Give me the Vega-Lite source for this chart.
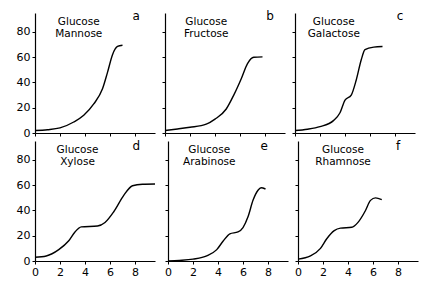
{
  "$schema": "https://vega.github.io/schema/vega-lite/v6.json",
  "padding": {"left": 16, "top": 9, "right": 5, "bottom": 5},
  "background": "white",
  "spacing": 2,
  "config": {
    "view": {"stroke": null},
    "axis": {"grid": false, "domainColor": "black", "tickColor": "black", "labelColor": "black", "labelFont": "DejaVu Sans", "labelFontSize": 11, "tickSize": 3, "title": null, "domainWidth": 1.2, "tickWidth": 1, "labelOverlap": false, "labelFlush": false, "tickCount": 10},
    "text": {"font": "DejaVu Sans", "fontSize": 10.5, "color": "black"},
    "concat": {"spacing": 6}
  },
  "datasets": {
    "curves": [
      {"panel": "a", "t": 0, "y": 2}, {"panel": "a", "t": 1, "y": 2.6}, {"panel": "a", "t": 2, "y": 4}, {"panel": "a", "t": 3.1, "y": 8.7}, {"panel": "a", "t": 3.9, "y": 14}, {"panel": "a", "t": 4.7, "y": 23}, {"panel": "a", "t": 5.4, "y": 35}, {"panel": "a", "t": 5.8, "y": 48}, {"panel": "a", "t": 6.2, "y": 62}, {"panel": "a", "t": 6.6, "y": 68.5}, {"panel": "a", "t": 7.0, "y": 69.5},
      {"panel": "b", "t": 0, "y": 2}, {"panel": "b", "t": 1, "y": 3.2}, {"panel": "b", "t": 2, "y": 4.5}, {"panel": "b", "t": 3.3, "y": 7}, {"panel": "b", "t": 4, "y": 11}, {"panel": "b", "t": 4.9, "y": 19}, {"panel": "b", "t": 5.5, "y": 30}, {"panel": "b", "t": 6.1, "y": 43}, {"panel": "b", "t": 6.6, "y": 55}, {"panel": "b", "t": 7.1, "y": 60}, {"panel": "b", "t": 7.8, "y": 60.3},
      {"panel": "c", "t": 0, "y": 2}, {"panel": "c", "t": 1, "y": 3}, {"panel": "c", "t": 2, "y": 5}, {"panel": "c", "t": 3.1, "y": 10}, {"panel": "c", "t": 3.6, "y": 16}, {"panel": "c", "t": 4.0, "y": 26}, {"panel": "c", "t": 4.5, "y": 30}, {"panel": "c", "t": 4.9, "y": 42}, {"panel": "c", "t": 5.3, "y": 58}, {"panel": "c", "t": 5.6, "y": 66}, {"panel": "c", "t": 6.3, "y": 68}, {"panel": "c", "t": 7.0, "y": 68.5},
      {"panel": "d", "t": 0, "y": 3}, {"panel": "d", "t": 0.9, "y": 4}, {"panel": "d", "t": 1.9, "y": 9}, {"panel": "d", "t": 2.7, "y": 16}, {"panel": "d", "t": 3.2, "y": 23}, {"panel": "d", "t": 3.7, "y": 27}, {"panel": "d", "t": 5.0, "y": 27.7}, {"panel": "d", "t": 5.6, "y": 30.5}, {"panel": "d", "t": 6.3, "y": 39}, {"panel": "d", "t": 7.1, "y": 52}, {"panel": "d", "t": 7.8, "y": 59.6}, {"panel": "d", "t": 8.6, "y": 60.8}, {"panel": "d", "t": 9.6, "y": 61},
      {"panel": "e", "t": 0, "y": 0}, {"panel": "e", "t": 0.9, "y": 0.5}, {"panel": "e", "t": 2, "y": 1.5}, {"panel": "e", "t": 3.1, "y": 4}, {"panel": "e", "t": 3.9, "y": 9}, {"panel": "e", "t": 4.4, "y": 15.6}, {"panel": "e", "t": 4.95, "y": 21.5}, {"panel": "e", "t": 5.6, "y": 23}, {"panel": "e", "t": 6.0, "y": 26.5}, {"panel": "e", "t": 6.4, "y": 35}, {"panel": "e", "t": 6.8, "y": 48}, {"panel": "e", "t": 7.2, "y": 56}, {"panel": "e", "t": 7.45, "y": 58}, {"panel": "e", "t": 7.8, "y": 57},
      {"panel": "f", "t": 0, "y": 1.5}, {"panel": "f", "t": 1, "y": 4}, {"panel": "f", "t": 1.8, "y": 10}, {"panel": "f", "t": 2.3, "y": 17.6}, {"panel": "f", "t": 2.9, "y": 24}, {"panel": "f", "t": 3.4, "y": 26}, {"panel": "f", "t": 4.3, "y": 26.7}, {"panel": "f", "t": 4.8, "y": 30.6}, {"panel": "f", "t": 5.4, "y": 40}, {"panel": "f", "t": 5.8, "y": 48}, {"panel": "f", "t": 6.2, "y": 50}, {"panel": "f", "t": 6.7, "y": 48.6}
    ]
  },
  "vconcat": [
    {
      "hconcat": [
        {
          "width": 120, "height": 120,
          "layer": [
            {"data": {"name": "curves"}, "transform": [{"filter": "datum.panel === 'a'"}],
             "mark": {"type": "line", "interpolate": "monotone", "color": "black", "strokeWidth": 1.4},
             "encoding": {
               "x": {"field": "t", "type": "quantitative", "scale": {"domain": [0, 9.6], "nice": false}, "axis": {"values": [0, 2, 4, 6, 8], "labels": false, "tickCount": 10}},
               "y": {"field": "y", "type": "quantitative", "scale": {"domain": [0, 95], "nice": false}, "axis": {"values": [0, 20, 40, 60, 80], "tickCount": 10}}
             }},
            {"data": {"values": [{}]}, "mark": {"type": "text", "align": "center", "baseline": "middle", "lineHeight": 12},
             "encoding": {"x": {"datum": 3.5}, "y": {"datum": 87.5}, "text": {"value": ["Glucose", "Mannose"]}}},
            {"data": {"values": [{}]}, "mark": {"type": "text", "align": "center", "baseline": "middle", "fontSize": 12},
             "encoding": {"x": {"datum": 8.1}, "y": {"datum": 93}, "text": {"value": "a"}}}
          ]
        },
        {
          "width": 120, "height": 120,
          "layer": [
            {"data": {"name": "curves"}, "transform": [{"filter": "datum.panel === 'b'"}],
             "mark": {"type": "line", "interpolate": "monotone", "color": "black", "strokeWidth": 1.4},
             "encoding": {
               "x": {"field": "t", "type": "quantitative", "scale": {"domain": [0, 9.6], "nice": false}, "axis": {"values": [0, 2, 4, 6, 8], "labels": false, "tickCount": 10}},
               "y": {"field": "y", "type": "quantitative", "scale": {"domain": [0, 95], "nice": false}, "axis": {"values": [0, 20, 40, 60, 80], "labels": false, "tickCount": 10}}
             }},
            {"data": {"values": [{}]}, "mark": {"type": "text", "align": "center", "baseline": "middle", "lineHeight": 12},
             "encoding": {"x": {"datum": 3.3}, "y": {"datum": 87.5}, "text": {"value": ["Glucose", "Fructose"]}}},
            {"data": {"values": [{}]}, "mark": {"type": "text", "align": "center", "baseline": "middle", "fontSize": 12},
             "encoding": {"x": {"datum": 8.4}, "y": {"datum": 93}, "text": {"value": "b"}}}
          ]
        },
        {
          "width": 120, "height": 120,
          "layer": [
            {"data": {"name": "curves"}, "transform": [{"filter": "datum.panel === 'c'"}],
             "mark": {"type": "line", "interpolate": "monotone", "color": "black", "strokeWidth": 1.4},
             "encoding": {
               "x": {"field": "t", "type": "quantitative", "scale": {"domain": [0, 9.6], "nice": false}, "axis": {"values": [0, 2, 4, 6, 8], "labels": false, "tickCount": 10}},
               "y": {"field": "y", "type": "quantitative", "scale": {"domain": [0, 95], "nice": false}, "axis": {"values": [0, 20, 40, 60, 80], "labels": false, "tickCount": 10}}
             }},
            {"data": {"values": [{}]}, "mark": {"type": "text", "align": "center", "baseline": "middle", "lineHeight": 12},
             "encoding": {"x": {"datum": 3.1}, "y": {"datum": 87.5}, "text": {"value": ["Glucose", "Galactose"]}}},
            {"data": {"values": [{}]}, "mark": {"type": "text", "align": "center", "baseline": "middle", "fontSize": 12},
             "encoding": {"x": {"datum": 8.4}, "y": {"datum": 93}, "text": {"value": "c"}}}
          ]
        }
      ]
    },
    {
      "hconcat": [
        {
          "width": 120, "height": 120,
          "layer": [
            {"data": {"name": "curves"}, "transform": [{"filter": "datum.panel === 'd'"}],
             "mark": {"type": "line", "interpolate": "monotone", "color": "black", "strokeWidth": 1.4},
             "encoding": {
               "x": {"field": "t", "type": "quantitative", "scale": {"domain": [0, 9.6], "nice": false}, "axis": {"values": [0, 2, 4, 6, 8], "tickCount": 10}},
               "y": {"field": "y", "type": "quantitative", "scale": {"domain": [0, 95], "nice": false}, "axis": {"values": [0, 20, 40, 60, 80], "tickCount": 10}}
             }},
            {"data": {"values": [{}]}, "mark": {"type": "text", "align": "center", "baseline": "middle", "lineHeight": 12},
             "encoding": {"x": {"datum": 3.4}, "y": {"datum": 88}, "text": {"value": ["Glucose", "Xylose"]}}},
            {"data": {"values": [{}]}, "mark": {"type": "text", "align": "center", "baseline": "middle", "fontSize": 12},
             "encoding": {"x": {"datum": 8.1}, "y": {"datum": 91}, "text": {"value": "d"}}}
          ]
        },
        {
          "width": 120, "height": 120,
          "layer": [
            {"data": {"name": "curves"}, "transform": [{"filter": "datum.panel === 'e'"}],
             "mark": {"type": "line", "interpolate": "monotone", "color": "black", "strokeWidth": 1.4},
             "encoding": {
               "x": {"field": "t", "type": "quantitative", "scale": {"domain": [0, 9.6], "nice": false}, "axis": {"values": [0, 2, 4, 6, 8], "tickCount": 10}},
               "y": {"field": "y", "type": "quantitative", "scale": {"domain": [0, 95], "nice": false}, "axis": {"values": [0, 20, 40, 60, 80], "labels": false, "tickCount": 10}}
             }},
            {"data": {"values": [{}]}, "mark": {"type": "text", "align": "center", "baseline": "middle", "lineHeight": 12},
             "encoding": {"x": {"datum": 3.3}, "y": {"datum": 88}, "text": {"value": ["Glucose", "Arabinose"]}}},
            {"data": {"values": [{}]}, "mark": {"type": "text", "align": "center", "baseline": "middle", "fontSize": 12},
             "encoding": {"x": {"datum": 7.7}, "y": {"datum": 91}, "text": {"value": "e"}}}
          ]
        },
        {
          "width": 120, "height": 120,
          "layer": [
            {"data": {"name": "curves"}, "transform": [{"filter": "datum.panel === 'f'"}],
             "mark": {"type": "line", "interpolate": "monotone", "color": "black", "strokeWidth": 1.4},
             "encoding": {
               "x": {"field": "t", "type": "quantitative", "scale": {"domain": [0, 9.6], "nice": false}, "axis": {"values": [0, 2, 4, 6, 8], "tickCount": 10}},
               "y": {"field": "y", "type": "quantitative", "scale": {"domain": [0, 95], "nice": false}, "axis": {"values": [0, 20, 40, 60, 80], "labels": false, "tickCount": 10}}
             }},
            {"data": {"values": [{}]}, "mark": {"type": "text", "align": "center", "baseline": "middle", "lineHeight": 12},
             "encoding": {"x": {"datum": 3.6}, "y": {"datum": 88}, "text": {"value": ["Glucose", "Rhamnose"]}}},
            {"data": {"values": [{}]}, "mark": {"type": "text", "align": "center", "baseline": "middle", "fontSize": 12},
             "encoding": {"x": {"datum": 8.0}, "y": {"datum": 91}, "text": {"value": "f"}}}
          ]
        }
      ]
    }
  ]
}
